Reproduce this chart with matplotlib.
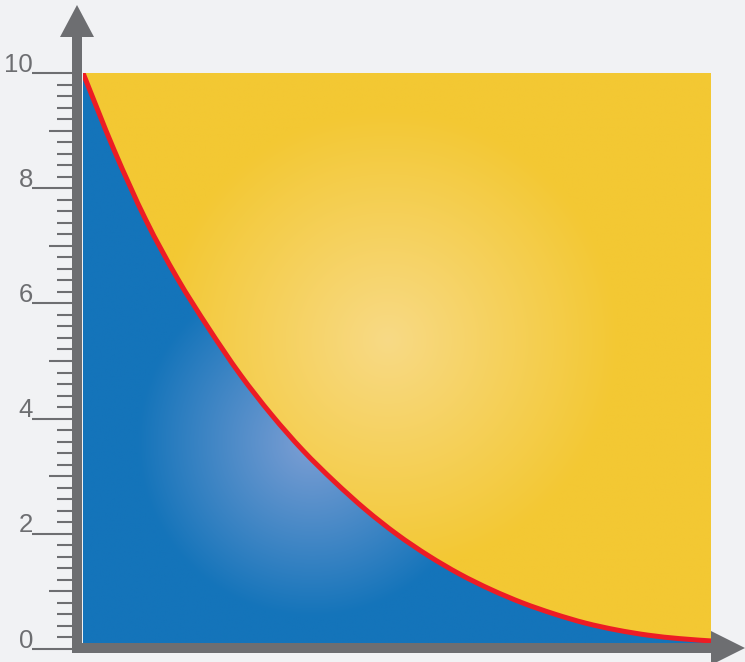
import numpy as np
import matplotlib.pyplot as plt
from matplotlib import font_manager
from matplotlib.colors import to_rgb
from matplotlib.path import Path
from matplotlib.patches import PathPatch

# curve (x runs 0..10 across the square)
x_vals = [0, 0.5, 1, 1.5, 2, 2.5, 3, 3.5, 4, 4.5, 5,
          5.5, 6, 6.5, 7, 7.5, 8, 8.5, 9, 9.5, 10]
curve = [10, 8.65, 7.45, 6.44, 5.57, 4.77, 4.07, 3.45, 2.91, 2.42, 1.99,
         1.62, 1.30, 1.03, 0.80, 0.61, 0.45, 0.33, 0.24, 0.18, 0.14]
y_labels = [0, 2, 4, 6, 8, 10]

GRAY = '#6d6e71'
BG = '#f1f2f4'
W, H = 745, 662

installed = {f.name for f in font_manager.fontManager.ttflist}
label_font = 'Liberation Sans Narrow' if 'Liberation Sans Narrow' in installed else 'Liberation Sans'
label_size = 20 if label_font == 'Liberation Sans Narrow' else 18.5

# axes box in pixels: x 0..10 -> 83..711, y 0..10 -> 649..73
x0_px, x1_px, y0_px, y1_px = 83, 711, 649, 73
sx = (x1_px - x0_px) / 10
sy = (y0_px - y1_px) / 10


def px_x(p):
    return (p - x0_px) / sx


def px_y(p):
    return (y0_px - p) / sy


def smooth_path(xs, ys):
    # Catmull-Rom through the read points, as cubic Bezier segments
    pts = np.column_stack([xs, ys]).astype(float)
    verts, codes = [pts[0]], [Path.MOVETO]
    n = len(pts)
    for i in range(n - 1):
        p0 = pts[max(i - 1, 0)]
        p1, p2 = pts[i], pts[i + 1]
        p3 = pts[min(i + 2, n - 1)]
        verts += [p1 + (p2 - p0) / 6, p2 - (p3 - p1) / 6, p2]
        codes += [Path.CURVE4] * 3
    return verts, codes


fig = plt.figure(figsize=(W / 100, H / 100), dpi=100, facecolor=BG)
ax = fig.add_axes([x0_px / W, (H - y0_px) / H, (x1_px - x0_px) / W, (y0_px - y1_px) / H])
ax.set_facecolor(BG)

cv, cc = smooth_path(x_vals, curve)
blue_path = Path(cv + [(10, 0), (0, 0), (0, 0)], cc + [Path.LINETO, Path.LINETO, Path.CLOSEPOLY])
yellow_path = Path(cv + [(10, 10), (0, 10), (0, 10)], cc + [Path.LINETO, Path.LINETO, Path.CLOSEPOLY])

blue = PathPatch(blue_path, facecolor='#1474ba', lw=0, zorder=1)
yellow = PathPatch(yellow_path, facecolor='#f3c833', lw=0, zorder=1)
ax.add_patch(blue)
ax.add_patch(yellow)


def radial(patch, cx, cy, r, c_in, c_out):
    g = np.linspace(0, 10, 500)
    gx, gy = np.meshgrid(g, g)
    d = np.hypot(gx * sx + x0_px - cx, y0_px - gy * sy - cy) / r
    t = np.clip(d, 0, 1)[..., None]
    rgb = np.array(to_rgb(c_in)) * (1 - t) + np.array(to_rgb(c_out)) * t
    im = ax.imshow(rgb, extent=(0, 10, 0, 10), origin='lower', aspect='auto',
                   interpolation='bilinear', zorder=2)
    im.set_clip_path(patch)


radial(yellow, 388, 340, 230, '#f8da86', '#f3c833')
radial(blue, 312, 442, 175, '#7e9fd4', '#1474ba')

ax.add_patch(PathPatch(Path(cv, cc), facecolor='none', edgecolor='#ed1c24',
                       lw=3.6, capstyle='butt', zorder=3))

# axis bars with arrow heads
ax.fill([px_x(72), px_x(82), px_x(82), px_x(72)],
        [px_y(653), px_y(653), px_y(37), px_y(37)], color=GRAY, lw=0, clip_on=False, zorder=4)
ax.fill([px_x(60), px_x(94), px_x(77)],
        [px_y(37), px_y(37), px_y(5)], color=GRAY, lw=0, clip_on=False, zorder=4)
ax.fill([px_x(72), px_x(712), px_x(712), px_x(72)],
        [px_y(643), px_y(643), px_y(653), px_y(653)], color=GRAY, lw=0, clip_on=False, zorder=4)
ax.fill([px_x(711), px_x(711), px_x(745)],
        [px_y(631), px_y(665), px_y(648)], color=GRAY, lw=0, clip_on=False, zorder=4)

# ruler ticks
for v in np.round(np.arange(0, 10.01, 0.2), 1):
    if v % 2 == 0:
        start = 32
    elif v % 1 == 0:
        start = 49
    else:
        start = 57
    ax.plot([px_x(start), px_x(72)], [v, v], color=GRAY, lw=1.5,
            solid_capstyle='butt', clip_on=False, zorder=4)

for v in y_labels:
    ax.text(px_x(33), v + 1.5 / sy, str(v), ha='right', va='baseline', fontsize=label_size,
            family=[label_font, 'DejaVu Sans'], color=GRAY)

ax.set_xlim(0, 10)
ax.set_ylim(0, 10)
ax.axis('off')

fig.savefig('out.png', dpi=100, facecolor=BG)
